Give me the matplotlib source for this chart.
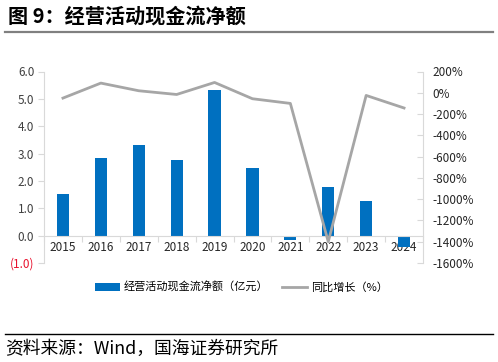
import matplotlib
matplotlib.use("Agg")
import matplotlib.pyplot as plt
from matplotlib.lines import Line2D
from matplotlib.patches import Patch
import numpy as np

plt.rcParams['font.family'] = ['Noto Sans CJK SC', 'DejaVu Sans']

years = ['2015', '2016', '2017', '2018', '2019', '2020', '2021', '2022', '2023', '2024']
net_cf = [1.52, 2.83, 3.31, 2.75, 5.34, 2.46, -0.16, 1.78, 1.27, -0.40]
yoy = [-50, 91, 19, -16, 97, -56, -100, -1400, -25, -143]
left_ticks = [-1, 0, 1, 2, 3, 4, 5, 6]
right_ticks = list(range(-1600, 201, 200))

blue = '#0070C0'
gray_line = '#A6A6A6'
spine_c = '#D9D9D9'

fig = plt.figure(figsize=(4.98, 3.62), dpi=100)
ax = fig.add_axes([44/498, 1-263/362, (423-44)/498, (263-71.5)/362])
x = np.arange(len(years))
ax.bar(x, net_cf, width=0.32, color=blue, zorder=2)
ax.set_xlim(-0.5, len(years)-0.5)
ax.set_ylim(-1, 6)
ax.set_yticks(left_ticks)
labels = [('(%.1f)' % abs(v)) if v < 0 else ('%.1f' % v) for v in left_ticks]
ax.set_yticklabels(labels)
for t, v in zip(ax.get_yticklabels(), left_ticks):
    t.set_color('#E8112D' if v < 0 else '#404040')
ax.tick_params(axis='y', direction='out', length=4, width=0.8, color=spine_c,
               labelsize=8.5, pad=3)
ax.spines['top'].set_visible(False)
ax.spines['right'].set_visible(False)
ax.spines['left'].set_color(spine_c)
ax.spines['bottom'].set_color(spine_c)
ax.spines['bottom'].set_position(('data', 0))
ax.set_xticks(x)
ax.set_xticklabels(years)
ax.set_xticks(np.arange(-0.5, len(years), 1.0), minor=True)
ax.tick_params(axis='x', which='major', length=0, labelsize=8.5, pad=4, labelcolor='#262626')
ax.tick_params(axis='x', which='minor', direction='out', length=4, width=0.8, color=spine_c)

ax2 = ax.twinx()
ax2.plot(x, yoy, color=gray_line, linewidth=2.0, zorder=3)
ax2.set_ylim(-1600, 200)
ax2.set_yticks(right_ticks)
ax2.set_yticklabels(['%d%%' % v for v in right_ticks])
ax2.tick_params(axis='y', direction='in', length=4, width=0.8, color=spine_c,
                labelsize=8.5, pad=7, labelcolor='#262626')
for s in ['top', 'left', 'bottom']:
    ax2.spines[s].set_visible(False)
ax2.spines['right'].set_color(spine_c)

handles = [Patch(facecolor=blue, edgecolor='none'),
           Line2D([0], [0], color=gray_line, linewidth=2.0)]
fig.legend(handles, ['经营活动现金流净额（亿元）', '同比增长（%）'],
           loc='center', bbox_to_anchor=(0.485, 1-287/362), ncol=2, frameon=False,
           fontsize=8, handlelength=2.2, handleheight=0.7, columnspacing=1.2,
           handletextpad=0.4)

fig.text(8/498, 1-16/362, '图 9：经营活动现金流净额', fontsize=14.5, fontweight='bold',
         va='center', ha='left', color='#000000')
fig.add_artist(Line2D([5/498, 493/498], [1-32/362, 1-32/362], color='#808080', linewidth=1.6))
fig.add_artist(Line2D([5/498, 493/498], [1-334/362, 1-334/362], color='#000000', linewidth=1.0))
fig.text(5/498, 1-349/362, '资料来源：Wind，国海证券研究所', fontsize=12.8,
         va='center', ha='left', color='#000000')

fig.savefig('out.png', dpi=100)
